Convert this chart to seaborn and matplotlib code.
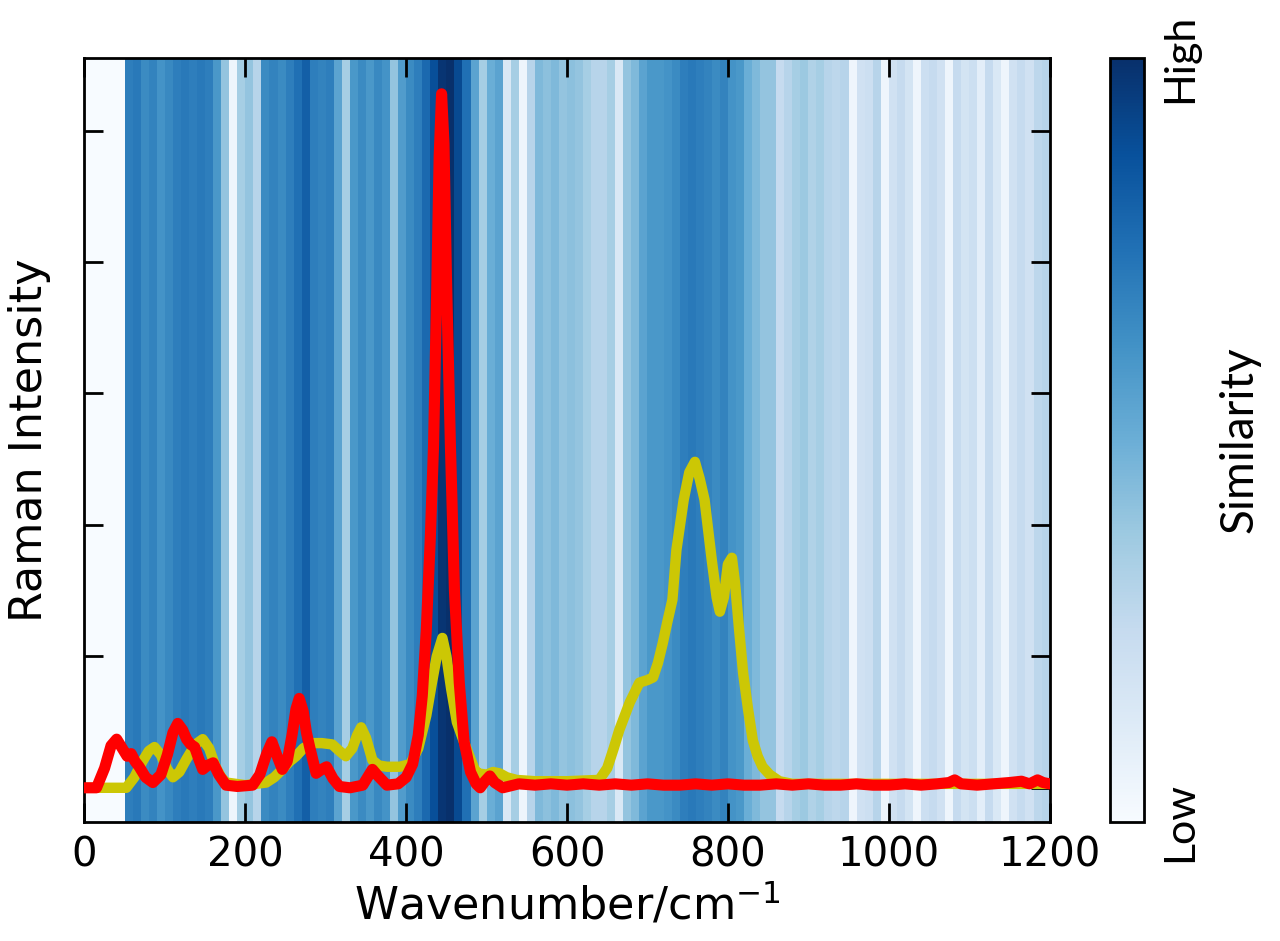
import numpy as np
import matplotlib
matplotlib.use("Agg")
import matplotlib.pyplot as plt
import seaborn as sns

# similarity per 10 cm-1 bin, 0..1200
similarity = [
    0.00, 0.00, 0.00, 0.00, 0.00, 0.70, 0.72, 0.65, 0.68, 0.62,
    0.66, 0.70, 0.72, 0.70, 0.72, 0.70, 0.60, 0.40, 0.05, 0.35,
    0.40, 0.30, 0.65, 0.68, 0.65, 0.70, 0.75, 0.82, 0.70, 0.68,
    0.70, 0.55, 0.35, 0.60, 0.65, 0.60, 0.66, 0.62, 0.40, 0.58,
    0.65, 0.70, 0.78, 0.88, 0.98, 1.00, 0.90, 0.75, 0.55, 0.35,
    0.50, 0.55, 0.15, 0.35, 0.05, 0.30, 0.45, 0.42, 0.45, 0.40,
    0.42, 0.40, 0.35, 0.30, 0.30, 0.35, 0.15, 0.40, 0.45, 0.55,
    0.60, 0.60, 0.62, 0.65, 0.70, 0.72, 0.70, 0.68, 0.65, 0.68,
    0.62, 0.60, 0.50, 0.45, 0.40, 0.40, 0.25, 0.30, 0.35, 0.38,
    0.32, 0.35, 0.30, 0.28, 0.30, 0.05, 0.20, 0.22, 0.30, 0.05,
    0.20, 0.25, 0.18, 0.05, 0.22, 0.25, 0.20, 0.05, 0.25, 0.18,
    0.22, 0.10, 0.25, 0.15, 0.05, 0.20, 0.25, 0.20, 0.28, 0.30,
]
bin_edges = np.arange(0, 1210, 10)

# red spectrum
red_wn = [0, 15, 25, 33, 40, 47, 53, 58, 63, 68, 76, 85, 95, 103, 110, 116, 122, 127,
          132, 137, 142, 147, 153, 160, 167, 176, 190, 209, 218, 226, 233, 239, 246,
          252, 258, 263, 267, 272, 276, 280, 288, 295, 301, 309, 317, 330, 346, 352,
          358, 365, 376, 390, 400, 408, 415, 420, 425, 430, 434, 438, 441, 444, 447,
          450, 455, 460, 466, 472, 480, 487, 492, 498, 504, 510, 520, 540, 560, 580,
          600, 620, 640, 660, 680, 700, 720, 740, 760, 780, 800, 820, 840, 860, 880,
          900, 920, 940, 960, 980, 1000, 1020, 1040, 1060, 1075, 1082, 1090, 1110,
          1130, 1150, 1165, 1175, 1185, 1192, 1200]
red_int = [0.0, 0.0, 0.15, 0.32, 0.37, 0.30, 0.24, 0.26, 0.20, 0.16, 0.08, 0.04, 0.10,
           0.25, 0.42, 0.49, 0.44, 0.37, 0.33, 0.31, 0.22, 0.14, 0.17, 0.19, 0.10, 0.02,
           0.01, 0.02, 0.10, 0.25, 0.35, 0.25, 0.14, 0.20, 0.40, 0.60, 0.68, 0.58, 0.42,
           0.31, 0.11, 0.14, 0.16, 0.07, 0.01, 0.0, 0.02, 0.08, 0.14, 0.09, 0.02, 0.03,
           0.08, 0.18, 0.40, 0.70, 1.20, 1.90, 2.60, 3.80, 4.80, 5.28, 4.90, 3.90, 2.60,
           1.50, 0.80, 0.35, 0.12, 0.03, 0.0, 0.05, 0.09, 0.04, 0.0, 0.03, 0.02, 0.03,
           0.02, 0.03, 0.02, 0.03, 0.02, 0.03, 0.02, 0.02, 0.03, 0.02, 0.03, 0.02, 0.02,
           0.03, 0.02, 0.03, 0.02, 0.02, 0.03, 0.02, 0.02, 0.03, 0.02, 0.03, 0.04, 0.06,
           0.03, 0.02, 0.03, 0.04, 0.05, 0.03, 0.06, 0.04, 0.03]

# yellow spectrum
yel_wn = [0, 52, 62, 72, 80, 87, 95, 103, 110, 118, 127, 138, 147, 155, 163, 170, 176,
          200, 226, 236, 246, 255, 263, 272, 283, 295, 308, 317, 325, 333, 339, 344,
          350, 358, 366, 376, 392, 405, 415, 425, 432, 438, 445, 450, 456, 463, 470,
          478, 485, 489, 500, 508, 516, 525, 537, 560, 600, 640, 650, 658, 665, 678,
          690, 700, 707, 713, 719, 725, 731, 736, 745, 752, 759, 765, 771, 780, 786,
          790, 795, 800, 805, 809, 814, 819, 825, 831, 837, 843, 852, 864, 880, 1200]
yel_int = [0.0, 0.0, 0.08, 0.20, 0.28, 0.31, 0.25, 0.14, 0.08, 0.12, 0.22, 0.33, 0.37,
           0.30, 0.16, 0.08, 0.04, 0.02, 0.04, 0.08, 0.14, 0.20, 0.24, 0.30, 0.34, 0.34,
           0.33, 0.28, 0.24, 0.30, 0.40, 0.46, 0.38, 0.21, 0.17, 0.16, 0.16, 0.18, 0.30,
           0.55, 0.80, 1.00, 1.14, 1.00, 0.75, 0.50, 0.38, 0.25, 0.14, 0.11, 0.10, 0.12,
           0.11, 0.08, 0.06, 0.05, 0.05, 0.06, 0.15, 0.30, 0.44, 0.65, 0.80, 0.82, 0.84,
           0.95, 1.10, 1.27, 1.43, 1.81, 2.19, 2.40, 2.48, 2.35, 2.19, 1.73, 1.45, 1.34,
           1.45, 1.70, 1.75, 1.55, 1.20, 0.87, 0.60, 0.36, 0.24, 0.16, 0.10, 0.05, 0.03,
           0.03]

sns.set_style("ticks")
plt.rcParams['font.family'] = ['DejaVu Sans']
plt.rcParams['text.color'] = 'black'
plt.rcParams['axes.labelcolor'] = 'black'
plt.rcParams['xtick.color'] = 'black'
plt.rcParams['ytick.color'] = 'black'
plt.rcParams['axes.edgecolor'] = 'black'

fig = plt.figure(figsize=(12.8, 9.41), dpi=100)
ax = fig.add_axes([0.066, 0.1265, 0.754, 0.8115])
cax = fig.add_axes([0.867, 0.1265, 0.027, 0.8115])

ylim = (-0.26, 5.55)
mesh = ax.pcolormesh(bin_edges, list(ylim), np.array([similarity]), cmap="Blues",
                     vmin=0, vmax=1, shading="flat", zorder=0)

sns.lineplot(x=yel_wn, y=yel_int, ax=ax, color=(0.8, 0.78, 0.02), lw=7.5,
             sort=False, estimator=None, zorder=2)
sns.lineplot(x=red_wn, y=red_int, ax=ax, color="#ff0000", lw=8,
             sort=False, estimator=None, zorder=3)

ax.set_xlim(0, 1200)
ax.set_ylim(*ylim)
ax.set_xticks([0, 200, 400, 600, 800, 1000, 1200])
ax.set_yticks([0, 1, 2, 3, 4, 5])
ax.set_yticklabels([])
ax.tick_params(direction="in", top=True, right=True, length=14, width=2,
               labelsize=29, pad=10)
for s in ax.spines.values():
    s.set_linewidth(2)
ax.set_xlabel("Wavenumber/cm$^{-1}$", fontsize=32, labelpad=4)
ax.set_ylabel("Raman Intensity", fontsize=32, labelpad=14)

cb = fig.colorbar(mesh, cax=cax, ticks=[0, 1])
cb.outline.set_linewidth(2)
cb.ax.tick_params(length=0, pad=12)
cb.ax.set_yticklabels(["Low", "High"], rotation=90, va="center",
                      fontsize=31, family="Lato")
cb.set_label("Similarity", fontsize=33, family="Lato", labelpad=14)

fig.savefig("out.png", dpi=100)
